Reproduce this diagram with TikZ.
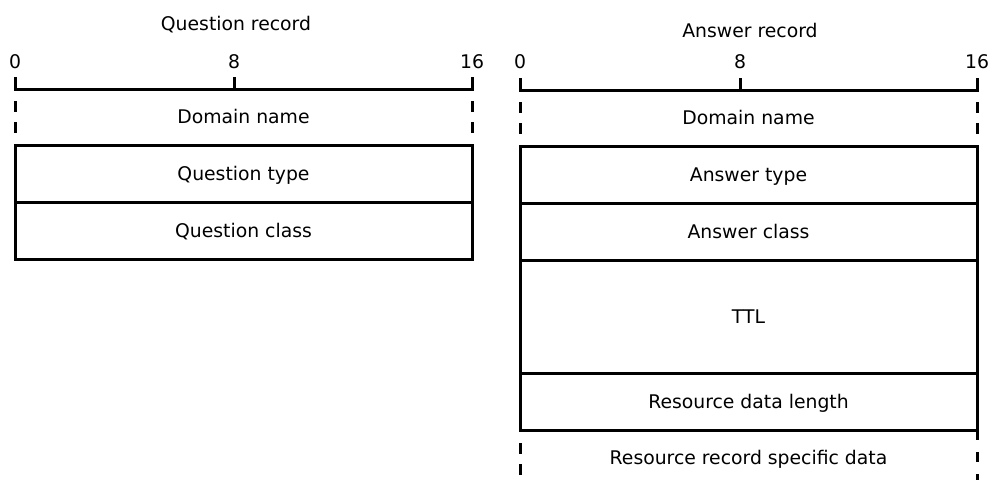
\documentclass[tikz,border=0pt]{standalone}
\usepackage{fontspec}
\setmainfont{DejaVu Sans}
\begin{document}
\begin{tikzpicture}[x=1pt,y=-1pt, line width=3pt,
  lbl/.style={font=\fontsize{18.8}{22}\selectfont, inner sep=0pt, text height=13.7pt, text depth=0pt},
  sidedash/.style={dash pattern=on 11pt off 10pt}]
\useasboundingbox (0,0) rectangle (991,480);
% ---------- Question record ----------
\node[lbl] (qtitle) at (236,24) {Question record};
\node[lbl] (q0) at (15,62) {0};
\node[lbl] (q8) at (234,62) {8};
\node[lbl] (q16) at (472,62) {16};
\coordinate (qa) at (15,77);
\coordinate (qb) at (15,89);
\coordinate (qc) at (472,89);
\coordinate (qd) at (472,77);
\coordinate (qm1) at (234,77);
\coordinate (qm2) at (234,89);
\draw (qa) -- (qb) -- (qc) -- (qd);
\draw (qm1) -- (qm2);
\coordinate (qdl1) at (15,101);
\coordinate (qdl2) at (15,133);
\coordinate (qdr1) at (472,101);
\coordinate (qdr2) at (472,133);
\draw[sidedash] (qdl1) -- (qdl2);
\draw[sidedash] (qdr1) -- (qdr2);
\node[lbl] (qdom) at (243.5,117) {Domain name};
\draw (15,145) rectangle (472,202);
\draw (15,202) rectangle (472,259);
\node[lbl] (qtype) at (243.5,173.5) {Question type};
\node[lbl] (qclass) at (243.5,230.5) {Question class};
% ---------- Answer record ----------
\node[lbl] (atitle) at (750,31) {Answer record};
\node[lbl] (a0) at (520,62) {0};
\node[lbl] (a8) at (740,62) {8};
\node[lbl] (a16) at (977,62) {16};
\coordinate (aa) at (520,78);
\coordinate (ab) at (520,90);
\coordinate (ac) at (977,90);
\coordinate (ad) at (977,78);
\coordinate (am1) at (740,78);
\coordinate (am2) at (740,90);
\draw (aa) -- (ab) -- (ac) -- (ad);
\draw (am1) -- (am2);
\coordinate (adl1) at (520,102);
\coordinate (adl2) at (520,134);
\coordinate (adr1) at (977,102);
\coordinate (adr2) at (977,134);
\draw[sidedash] (adl1) -- (adl2);
\draw[sidedash] (adr1) -- (adr2);
\node[lbl] (adom) at (748.5,118) {Domain name};
\draw (520,146) rectangle (977,203);
\draw (520,203) rectangle (977,260);
\draw (520,260) rectangle (977,373);
\draw (520,373) rectangle (977,430);
\node[lbl] (atype) at (748.5,174.5) {Answer type};
\node[lbl] (aclass) at (748.5,231.5) {Answer class};
\node[lbl] (attl) at (748.5,316.5) {TTL};
\node[lbl] (alen) at (748.5,401.5) {Resource data length};
\coordinate (ael1) at (520,443);
\coordinate (ael2) at (520,475);
\coordinate (aer1) at (977,430);
\coordinate (aer2) at (977,480);
\draw[sidedash] (ael1) -- (ael2);
\draw[dash pattern=on 10pt off 12pt] (aer1) -- (aer2);
\node[lbl] (adata) at (748.5,458) {Resource record specific data};
\end{tikzpicture}
\end{document}
